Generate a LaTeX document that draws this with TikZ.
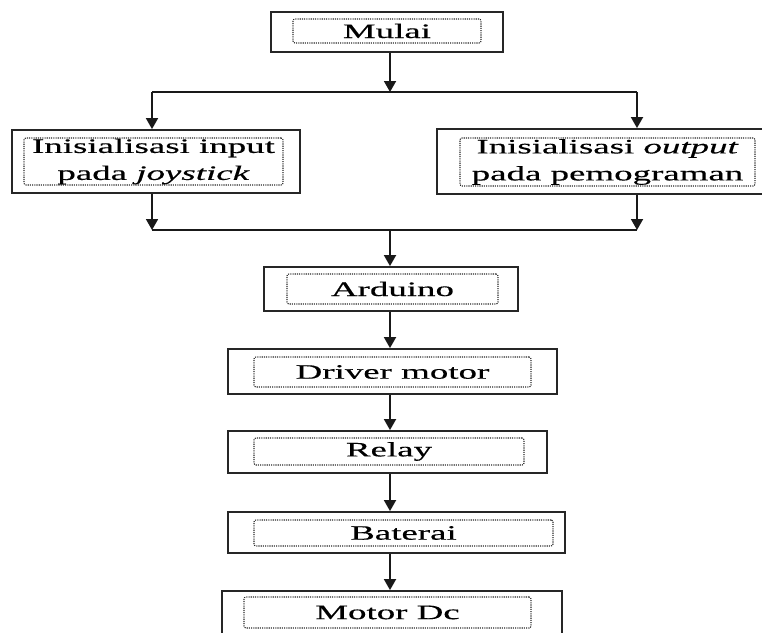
\documentclass[tikz,border=0pt]{standalone}
\usepackage{fontspec}
\setmainfont{Liberation Serif}[FakeStretch=1.8, FakeBold=0.4]
\usetikzlibrary{arrows.meta}

\tikzset{
  outerbox/.style={draw=black!85, line width=1.8pt, inner sep=0pt},
  txtbox/.style={draw=black!85, line width=1.1pt, dash pattern=on 1.1pt off 1.1pt,
    rounded corners=2pt, inner sep=0pt, align=center,
    font=\fontsize{20.5}{27}\selectfont},
  flow/.style={draw=black!90, line width=1.8pt},
  arr/.style={flow, -{Triangle[width=12pt,length=11pt]}}
}

\begin{document}
\begin{tikzpicture}[x=1pt, y=-1pt]
  \clip (0,0) rectangle (762,632);

  % Draw the boxes
  \node[outerbox, minimum width=232pt, minimum height=40pt] (mulai) at (387,32) {};
  \node[txtbox, minimum width=188pt, minimum height=24pt] (mulaiTxt) at (387,31) {Mulai};

  \node[outerbox, minimum width=288pt, minimum height=63pt] (initIn) at (156,161.5) {};
  \node[txtbox, minimum width=259pt, minimum height=47pt] (initInTxt) at (153.5,161.5)
    {Inisialisasi input\\pada \textit{joystick}};

  \node[outerbox, minimum width=335pt, minimum height=65pt] (initOut) at (604.5,161.5) {};
  \node[txtbox, minimum width=295pt, minimum height=48pt] (initOutTxt) at (607.5,162)
    {Inisialisasi \textit{output}\\pada pemograman};

  \node[outerbox, minimum width=254pt, minimum height=44pt] (arduino) at (391,289) {};
  \node[txtbox, minimum width=211pt, minimum height=30pt] (arduinoTxt) at (392.5,289) {Arduino};

  \node[outerbox, minimum width=329pt, minimum height=45pt] (driver) at (392.5,371.5) {};
  \node[txtbox, minimum width=277pt, minimum height=30pt] (driverTxt) at (392.5,372) {Driver motor};

  \node[outerbox, minimum width=319pt, minimum height=42pt] (relay) at (387.5,452) {};
  \node[txtbox, minimum width=270pt, minimum height=27pt] (relayTxt) at (389,451.5) {Relay};

  \node[outerbox, minimum width=337pt, minimum height=41pt] (baterai) at (396.5,532.5) {};
  \node[txtbox, minimum width=299pt, minimum height=26pt] (bateraiTxt) at (403.5,533) {Baterai};

  \node[outerbox, minimum width=340pt, minimum height=54pt] (motor) at (392,618) {};
  \node[txtbox, minimum width=287pt, minimum height=31pt] (motorTxt) at (387.5,612.5) {Motor Dc};

  % Branch points
  \coordinate (spine) at (390,0);
  \coordinate (splitL) at (152,92);
  \coordinate (splitR) at (637,92);
  \coordinate (joinL) at (152,230);
  \coordinate (joinR) at (637,230);

  % Draw the split after Mulai
  \draw[arr] (mulai.south -| spine) -- (splitL -| spine);
  \draw[flow] (splitL) -- (splitR);
  \draw[arr] (splitL) -- (splitL |- initIn.north);
  \draw[arr] (splitR) -- (splitR |- initOut.north);

  % Draw the join before Arduino
  \draw[arr] (initIn.south -| joinL) -- (joinL);
  \draw[arr] (initOut.south -| joinR) -- (joinR);
  \draw[flow] (joinL) -- (joinR);
  \draw[arr] (joinL -| spine) -- (arduino.north -| spine);

  % Draw the chain down to the motor
  \draw[arr] (arduino.south -| spine) -- (driver.north -| spine);
  \draw[arr] (driver.south -| spine) -- (relay.north -| spine);
  \draw[arr] (relay.south -| spine) -- (baterai.north -| spine);
  \draw[arr] (baterai.south -| spine) -- (motor.north -| spine);

\end{tikzpicture}
\end{document}
